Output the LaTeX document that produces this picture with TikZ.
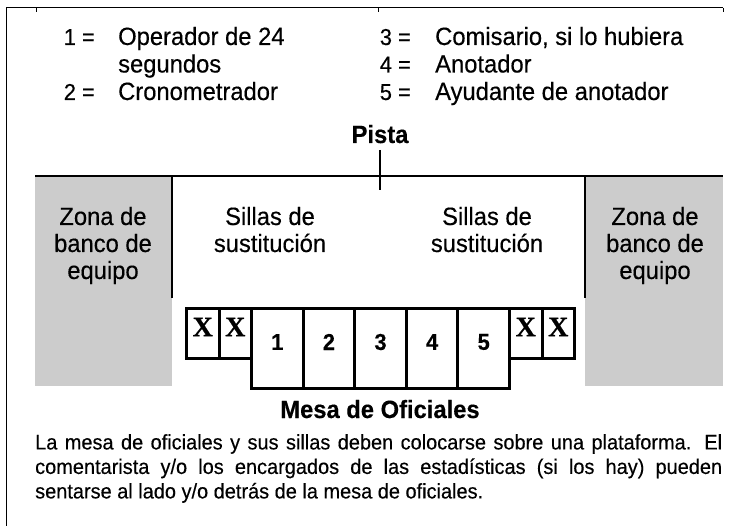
\documentclass[tikz,border=0pt]{standalone}
\usepackage{fontspec}
\setmainfont{Liberation Sans}[FakeBold=0.35, FakeStretch=0.95]
\newfontfamily\xserif{Liberation Serif}[FakeBold=0.7]
\definecolor{zonegray}{RGB}{204,204,204}
\begin{document}
\begin{tikzpicture}[x=1pt,y=-1pt,
  frame/.style={line width=1pt},
  heavy/.style={line width=2.6pt},
  legnum/.style={font=\fontsize{23}{24}\selectfont, inner sep=0pt, anchor=base east},
  legtxt/.style={font=\fontsize{25}{27}\selectfont, inner sep=0pt, anchor=base west},
  midtxt/.style={font=\fontsize{25}{27}\selectfont, inner sep=0pt, anchor=base},
  headtxt/.style={font=\bfseries\fontsize{25}{27}\selectfont, inner sep=0pt, anchor=base},
  zone/.style={fill=zonegray, draw=none, inner sep=0pt, anchor=north west, minimum height=210pt},
  smallseat/.style={draw, line width=3pt, inner sep=0pt, anchor=north west, minimum width=32.5pt, minimum height=50pt},
  bigseat/.style={draw, line width=3pt, inner sep=0pt, anchor=north west, minimum width=51.6pt, minimum height=80pt},
  xmark/.style={font=\xserif\bfseries\fontsize{28}{30}\selectfont, inner sep=0pt},
  seatnum/.style={font=\bfseries\fontsize{23}{26}\selectfont, inner sep=0pt},
  para/.style={font=\fontsize{21}{24.5}\selectfont, inner sep=0pt, anchor=north west, text width=687pt, align=justify}
]
\useasboundingbox (0,0) rectangle (741,526);

% frame (crop edge)
\draw[frame] (6,526) -- (6,8) -- (723,8);
\draw[line width=0.8pt] (36,8) -- (36,12);
\draw[line width=0.8pt] (378,8) -- (378,12);
\draw[line width=0.8pt] (723,8) -- (723,12);

% legend
\node[legnum] (n1) at (95,45) {1 =};
\node[legtxt] (t1) at (118,45) {Operador de 24};
\node[legtxt] (t1b) at (118,72.5) {segundos};
\node[legnum] (n2) at (95,100) {2 =};
\node[legtxt] (t2) at (118,100) {Cronometrador};
\node[legnum] (n3) at (411,45) {3 =};
\node[legtxt] (t3) at (435,45) {Comisario, si lo hubiera};
\node[legnum] (n4) at (411,72.5) {4 =};
\node[legtxt] (t4) at (435,72.5) {Anotador};
\node[legnum] (n5) at (411,100) {5 =};
\node[legtxt] (t5) at (435,100) {Ayudante de anotador};

% Pista
\node[headtxt] (pista) at (380,143) {Pista};
\coordinate (ticktop) at (380,150);
\coordinate (tickbot) at (380,190);

% zones
\node[zone, minimum width=137pt] (zl) at (35,176) {};
\node[zone, minimum width=138pt] (zr) at (585,176) {};
\node[midtxt] (zl1) at (103,225) {Zona de};
\node[midtxt] (zl2) at (103,252) {banco de};
\node[midtxt] (zl3) at (103,279) {equipo};
\node[midtxt] (zr1) at (655,225) {Zona de};
\node[midtxt] (zr2) at (655,252) {banco de};
\node[midtxt] (zr3) at (655,279) {equipo};

% court line and bench area
\coordinate (cl) at (35,176);
\coordinate (cr) at (723,176);
\coordinate (bl) at (172,176);
\coordinate (bl2) at (172,298);
\coordinate (br) at (585,176);
\coordinate (br2) at (585,298);
\draw[heavy] (cl) -- (cr);
\draw[heavy] (ticktop) -- (tickbot);
\draw[heavy] (bl) -- (bl2);
\draw[heavy] (br) -- (br2);

\node[midtxt] (sl1) at (270,225) {Sillas de};
\node[midtxt] (sl2) at (270,252) {sustitución};
\node[midtxt] (sr1) at (487,225) {Sillas de};
\node[midtxt] (sr2) at (487,252) {sustitución};

% officials' table
\node[smallseat] (xa) at (185,307) {};
\node[smallseat] (xb) at (217.5,307) {};
\node[bigseat] (s1) at (250,307) {};
\node[bigseat] (s2) at (301.6,307) {};
\node[bigseat] (s3) at (353.2,307) {};
\node[bigseat] (s4) at (404.8,307) {};
\node[bigseat] (s5) at (456.4,307) {};
\node[smallseat] (xc) at (508,307) {};
\node[smallseat] (xd) at (540.5,307) {};

\foreach \s in {xa,xb,xc,xd}
  \node[xmark] at ([yshift=-20pt]\s.north) {X};
\foreach \s/\n in {s1/1,s2/2,s3/3,s4/4,s5/5}
  \node[seatnum] at ([yshift=-35pt]\s.north) {\n};

\node[headtxt] (mesa) at (380,418) {Mesa de Oficiales};

\node[para] (nota) at (35,434) {\noindent La mesa de oficiales y sus sillas deben colocarse sobre una plataforma. El\linebreak
comentarista y/o los encargados de las estadísticas (si los hay) pueden\linebreak
sentarse al lado y/o detrás de la mesa de oficiales.};
\end{tikzpicture}
\end{document}
